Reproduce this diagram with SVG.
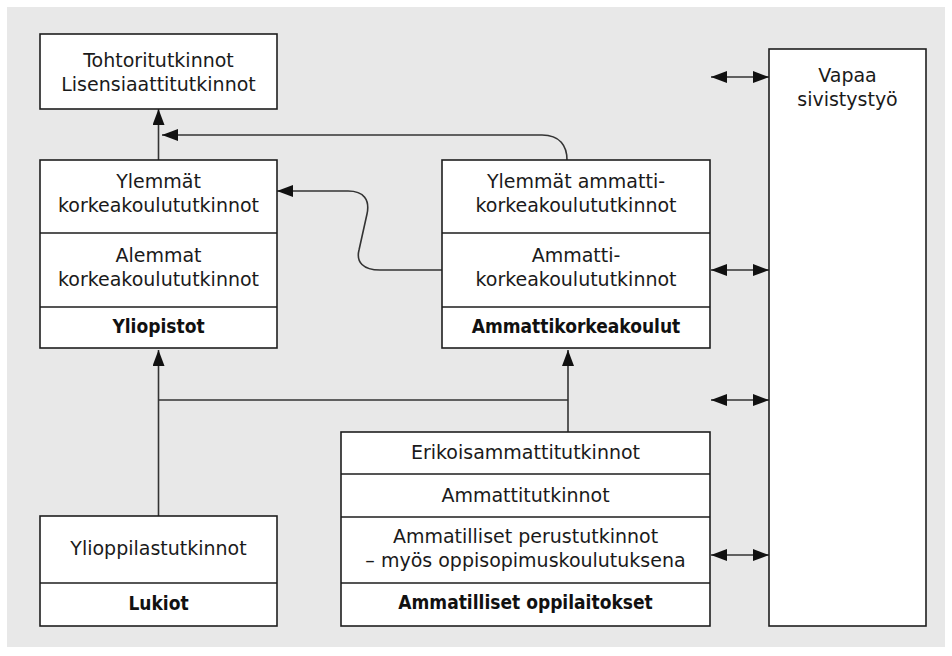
<svg xmlns="http://www.w3.org/2000/svg" width="952" height="656" viewBox="0 0 952 656">
  <style>
    .box { fill: #ffffff; stroke: #1e1e1e; stroke-width: 1.6; }
    .div { stroke: #1e1e1e; stroke-width: 1.6; fill: none; }
    .t { font-family: "DejaVu Sans", "Liberation Sans", sans-serif; font-size: 19px; fill: #1a1a1a; text-anchor: middle; }
    .b { font-family: "DejaVu Sans Condensed", "DejaVu Sans", sans-serif; font-weight: bold; font-size: 19px; fill: #111111; text-anchor: middle; }
    .c { stroke: #333333; stroke-width: 1.6; fill: none; }
    .c1 { marker-end: url(#head); }
    .c2 { marker-start: url(#head); marker-end: url(#head); }
  </style>
  <defs>
    <marker id="head" markerUnits="userSpaceOnUse" markerWidth="16" markerHeight="12" refX="16" refY="6" orient="auto-start-reverse" viewBox="0 0 16 12">
      <path d="M0,0 L16,6 L0,12 z" fill="#111111"/>
    </marker>
  </defs>

  <!-- panel -->
  <rect x="7" y="7" width="938" height="640" fill="#e8e8e8"/>

  <!-- connectors -->
  <g id="connectors">
    <path class="c c1" d="M158.5,160 V109"/>
    <path class="c c1" d="M567,160 C567,146 560,135 542,135 H162"/>
    <path class="c c1" d="M442,270 H380 C363,270 356,262 359,250 L367,214 C370,200 364,191 348,191 H277"/>
    <path class="c c1" d="M158.5,516 V350"/>
    <path class="c" d="M158.5,400 H568"/>
    <path class="c c1" d="M568,432 V350"/>
    <path class="c c2" d="M711,77 H769"/>
    <path class="c c2" d="M711,270 H769"/>
    <path class="c c2" d="M711,400 H769"/>
    <path class="c c2" d="M711,555 H769"/>
  </g>

  <!-- doctoral degrees -->
  <g id="tohtori">
    <rect class="box" x="40" y="34" width="237" height="75"/>
    <text class="t" x="158.5" y="67">Tohtoritutkinnot</text>
    <text class="t" x="158.5" y="91">Lisensiaattitutkinnot</text>
  </g>

  <!-- universities -->
  <g id="yliopistot">
    <rect class="box" x="40" y="160" width="237" height="188"/>
    <path class="div" d="M40,233 H277 M40,307 H277"/>
    <text class="t" x="158.5" y="188">Ylemmät</text>
    <text class="t" x="158.5" y="212">korkeakoulututkinnot</text>
    <text class="t" x="158.5" y="262">Alemmat</text>
    <text class="t" x="158.5" y="286">korkeakoulututkinnot</text>
    <text class="b" x="158.5" y="333">Yliopistot</text>
  </g>

  <!-- universities of applied sciences -->
  <g id="amk">
    <rect class="box" x="442" y="160" width="268" height="188"/>
    <path class="div" d="M442,233 H710 M442,307 H710"/>
    <text class="t" x="576" y="188">Ylemmät ammatti-</text>
    <text class="t" x="576" y="212">korkeakoulututkinnot</text>
    <text class="t" x="576" y="262">Ammatti-</text>
    <text class="t" x="576" y="286">korkeakoulututkinnot</text>
    <text class="b" x="576" y="333">Ammattikorkeakoulut</text>
  </g>

  <!-- upper secondary schools -->
  <g id="lukiot">
    <rect class="box" x="40" y="516" width="237" height="110"/>
    <path class="div" d="M40,583 H277"/>
    <text class="t" x="158.5" y="555">Ylioppilastutkinnot</text>
    <text class="b" x="158.5" y="610">Lukiot</text>
  </g>

  <!-- vocational institutions -->
  <g id="ammatilliset">
    <rect class="box" x="341" y="432" width="369" height="194"/>
    <path class="div" d="M341,474 H710 M341,517 H710 M341,583 H710"/>
    <text class="t" x="525.5" y="459">Erikoisammattitutkinnot</text>
    <text class="t" x="525.5" y="502">Ammattitutkinnot</text>
    <text class="t" x="525.5" y="543">Ammatilliset perustutkinnot</text>
    <text class="t" x="525.5" y="567">– myös oppisopimuskoulutuksena</text>
    <text class="b" x="525.5" y="609">Ammatilliset oppilaitokset</text>
  </g>

  <!-- liberal adult education -->
  <g id="vapaa">
    <rect class="box" x="769" y="49" width="157" height="577"/>
    <text class="t" x="847.5" y="82">Vapaa</text>
    <text class="t" x="847.5" y="106">sivistystyö</text>
  </g>
</svg>
